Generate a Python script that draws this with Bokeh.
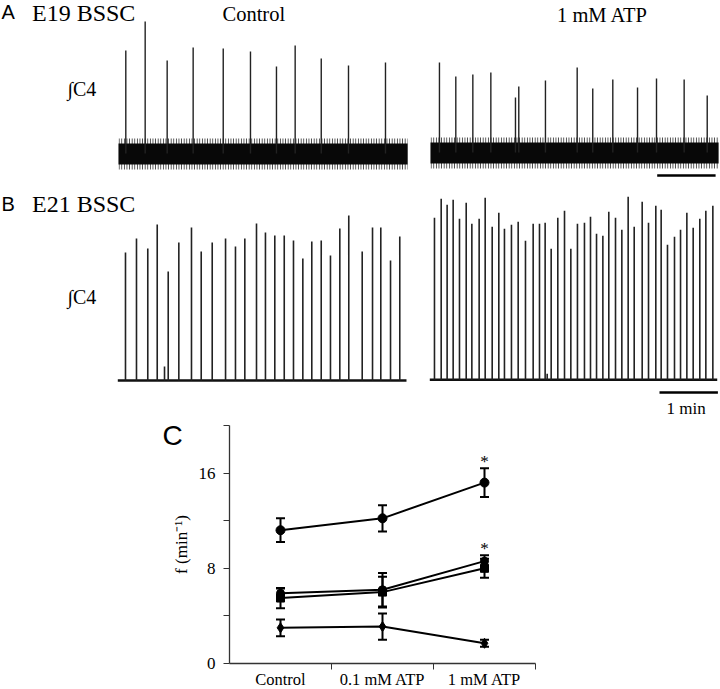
from bokeh.plotting import figure
from bokeh.models import Range1d, ColumnDataSource, Label, FixedTicker, Whisker, TeeHead
from bokeh.core.properties import value
from bokeh.embed import file_html
from bokeh.resources import INLINE

# ---------------- data ----------------
# Panel A (E19 BSSC) burst times (s from trace start) and amplitudes (a.u.)
a_ctrl_t = [7.5, 27.4, 50.0, 76.7, 107.6, 135.6, 162.3, 181.5, 208.3, 236.3, 274.3]
a_ctrl_amp = [103, 132, 93, 106, 105, 102, 87, 108, 95, 88, 91]
a_atp_t = [9.2, 26.0, 43.5, 62.0, 87.3, 90.7, 118.1, 150.7, 166.7, 187.3, 212.7, 232.2, 260.6, 284.3]
a_atp_amp = [90, 76, 78, 80, 55, 66, 72, 85, 64, 73, 65, 74, 73, 57]

# Panel B (E21 BSSC)
b_ctrl_t = [7.9, 19.2, 30.8, 40.5, 48.0, 51.8, 62.7, 75.7, 85.7, 97.0, 110.7, 120.9, 130.5,
            142.5, 151.7, 161.3, 171.0, 180.5, 190.1, 199.3, 209.0, 218.5, 228.1, 237.3,
            251.1, 261.7, 270.2, 280.2, 289.7]
b_ctrl_amp = [128, 142, 132, 156, 14, 109, 138, 153, 129, 138, 142, 134, 142, 157, 148, 145,
              145, 140, 122, 139, 140, 125, 152, 165, 129, 153, 153, 120, 144]
b_atp_t = [4.8, 11.7, 17.8, 24.0, 30.5, 37.4, 43.2, 50.7, 56.9, 64.1, 70.9, 76.7, 83.9, 90.8,
           98.3, 106.2, 112.7, 118.5, 120.6, 124.7, 131.5, 138.4, 144.9, 151.7, 158.9, 165.1,
           171.3, 177.8, 183.9, 190.8, 197.3, 203.8, 210.0, 218.2, 224.7, 232.2, 237.7, 244.2,
           251.4, 257.6, 264.1, 270.6, 277.4, 283.6, 290.8]
b_atp_amp = [162, 181, 175, 180, 161, 177, 156, 161, 182, 153, 167, 151, 155, 158, 139, 156,
             156, 157, 6, 131, 162, 169, 131, 156, 157, 163, 146, 144, 168, 162, 150, 183,
             153, 178, 157, 174, 170, 135, 143, 150, 167, 152, 161, 169, 174]
trace_durations = [297.0, 296.0, 296.6, 295.3]
scale_bar_s = 60

# Panel C
conditions = ["Control", "0.1 mM ATP", "1 mM ATP"]
f_s1 = [11.2, 12.2, 15.2]
e_s1 = [1.0, 1.1, 1.2]
f_s2 = [5.9, 6.2, 8.6]
e_s2 = [0.4, 1.4, 0.5]
f_s3 = [5.5, 6.0, 8.0]
e_s3 = [0.85, 1.3, 0.8]
f_s4 = [3.0, 3.1, 1.7]
e_s4 = [0.7, 1.1, 0.3]
y_ticks = [0, 4, 8, 12, 16, 20]
y_labeled = [0, 8, 16]

# ---------------- top figure: traces ----------------
K = 60 / 58.4  # seconds per reference pixel
SERIF = "Liberation Serif"
SANS = "Liberation Sans"
TOP_H = 454      # top canvas height (overlaps panel C canvas, which is transparent)
OVERLAP = 34

pt = figure(width=720, height=TOP_H, x_range=Range1d(0, 720 * K), y_range=Range1d(TOP_H, 0),
            output_backend="svg", toolbar_location=None, min_border=0,
            x_axis_location=None, y_axis_location=None)
pt.grid.visible = False
pt.outline_line_color = None

traces = [
    # (times, amps, x offset (ref px), baseline, duration, noisy)
    (a_ctrl_t, a_ctrl_amp, 118.0, 153, trace_durations[0], True),
    (a_atp_t, a_atp_amp, 430.0, 152, trace_durations[1], True),
    (b_ctrl_t, b_ctrl_amp, 117.3, 380, trace_durations[2], False),
    (b_atp_t, b_atp_amp, 429.3, 379.3, trace_durations[3], False),
]
for ts, amps, xo, base, dur, noisy in traces:
    x0 = xo * K
    if noisy:
        pt.quad(left=[x0], right=[x0 + dur], top=[base - 15], bottom=[base + 16],
                fill_alpha=0, line_color=None, hatch_pattern="vertical_line",
                hatch_color="#000000", hatch_scale=2.6, hatch_weight=1.2, hatch_alpha=0.75)
        pt.quad(left=[x0], right=[x0 + dur], top=[base - 10], bottom=[base + 11],
                fill_color="#080808", line_color=None)
        lw = 1.4
    else:
        pt.segment(x0=[x0], y0=[base], x1=[x0 + dur], y1=[base], line_color="#111111",
                   line_width=2.6)
        lw = 1.6
    xs = [x0 + t for t in ts]
    pt.segment(x0=xs, y0=[base] * len(xs), x1=xs, y1=[base - a for a in amps],
               line_color="#222222", line_width=lw)

# scale bars (1 min)
for xo, yb in [(656.7, 175), (659.0, 392)]:
    pt.segment(x0=[xo * K], y0=[yb], x1=[xo * K + scale_bar_s], y1=[yb],
               line_color="black", line_width=2.3)

def lab(fig, x, y, text, font, size, align="left", baseline="middle"):
    fig.add_layout(Label(x=x, y=y, text=text, text_font=font, text_font_size=size,
                         text_align=align, text_baseline=baseline, text_color="black"))

lab(pt, 1 * K, 11.5, "A", SANS, "20px")
lab(pt, 31.5 * K, 12.5, "E19 BSSC", SERIF, "24px")
lab(pt, 222 * K, 13.3, "Control", SERIF, "20.5px")
lab(pt, 556.5 * K, 14.2, "1 mM ATP", SERIF, "20.5px")
lab(pt, 67 * K, 88.3, "\u222bC4", SERIF, "20px")
lab(pt, 1 * K, 203.3, "B", SANS, "20px")
lab(pt, 31.5 * K, 203.3, "E21 BSSC", SERIF, "24px")
lab(pt, 67 * K, 296.7, "\u222bC4", SERIF, "20px")
lab(pt, 666 * K, 408.3, "1 min", SERIF, "17px")
lab(pt, 172 * K, 434.5, "C", SANS, "28px", align="center")

# ---------------- bottom figure: panel C ----------------
pc = figure(frame_width=306, frame_height=238, x_range=Range1d(0, 3), y_range=Range1d(0, 20),
            output_backend="svg", toolbar_location=None,
            min_border_left=229, min_border_right=185, min_border_top=5, min_border_bottom=0)
pc.grid.visible = False
pc.outline_line_color = None
pc.border_fill_alpha = 0
pc.background_fill_alpha = 0
pc.margin = (-OVERLAP, 0, 0, 0)

xpos = [i + 0.5 for i in range(len(conditions))]
series = [(f_s1, e_s1, "circle", 9), (f_s2, e_s2, "circle", 8),
          (f_s3, e_s3, "square", 8), (f_s4, e_s4, "diamond", 10)]
for f, e, mk, sz in series:
    src = ColumnDataSource(dict(x=xpos, y=f, lo=[a - b for a, b in zip(f, e)],
                                hi=[a + b for a, b in zip(f, e)]))
    pc.line("x", "y", source=src, line_color="black", line_width=2)
    pc.add_layout(Whisker(base="x", upper="hi", lower="lo", source=src, line_width=2,
                          line_color="black",
                          upper_head=TeeHead(size=9, line_width=2, line_color="black"),
                          lower_head=TeeHead(size=9, line_width=2, line_color="black")))
    pc.scatter("x", "y", source=src, marker=mk, size=sz, color="black")

# significance markers
sig_idx = [0, 1]
sig_src = dict(x=[xpos[2]] * 2,
               y=[[f_s1, f_s2][i][2] + [e_s1, e_s2][i][2] + 0.55 for i in sig_idx],
               t=["*", "*"])
pc.text(x="x", y="y", text="t", source=ColumnDataSource(sig_src), text_font=value(SERIF),
        text_font_size="17px", text_align="center", text_baseline="middle",
        text_color="black")

pc.yaxis.ticker = FixedTicker(ticks=y_ticks, minor_ticks=[])
pc.yaxis.major_label_overrides = {t: ("" if t not in y_labeled else str(t)) for t in y_ticks}
pc.yaxis.major_tick_in = 0
pc.yaxis.major_tick_out = 6
pc.yaxis.minor_tick_line_color = None
pc.yaxis.major_label_standoff = 8
pc.yaxis.axis_label = "f (min\u207b\u00b9)"
pc.yaxis.axis_label_standoff = 5

pc.xaxis.ticker = FixedTicker(ticks=xpos, minor_ticks=[1, 2, 3])
pc.xaxis.major_label_overrides = {x: c for x, c in zip(xpos, conditions)}
pc.xaxis.major_tick_line_color = None
pc.xaxis.major_tick_out = 0
pc.xaxis.major_tick_in = 0
pc.xaxis.minor_tick_in = 0
pc.xaxis.minor_tick_out = 6
pc.xaxis.major_label_standoff = 0

for ax in (pc.xaxis[0], pc.yaxis[0]):
    ax.axis_line_color = "#333333"
    ax.axis_line_width = 1.3
    ax.major_tick_line_color = ax.major_tick_line_color and "#333333"
    ax.minor_tick_line_color = ax.minor_tick_line_color and "#333333"
    ax.major_label_text_font = SERIF
    ax.major_label_text_font_size = "16.5px"
    ax.major_label_text_color = "black"
    ax.axis_label_text_font = SERIF
    ax.axis_label_text_font_size = "17px"
    ax.axis_label_text_font_style = "normal"
    ax.axis_label_text_color = "black"
pc.yaxis.major_label_text_font_size = "17px"

open("out.html", "w").write(file_html([pt, pc], INLINE))
